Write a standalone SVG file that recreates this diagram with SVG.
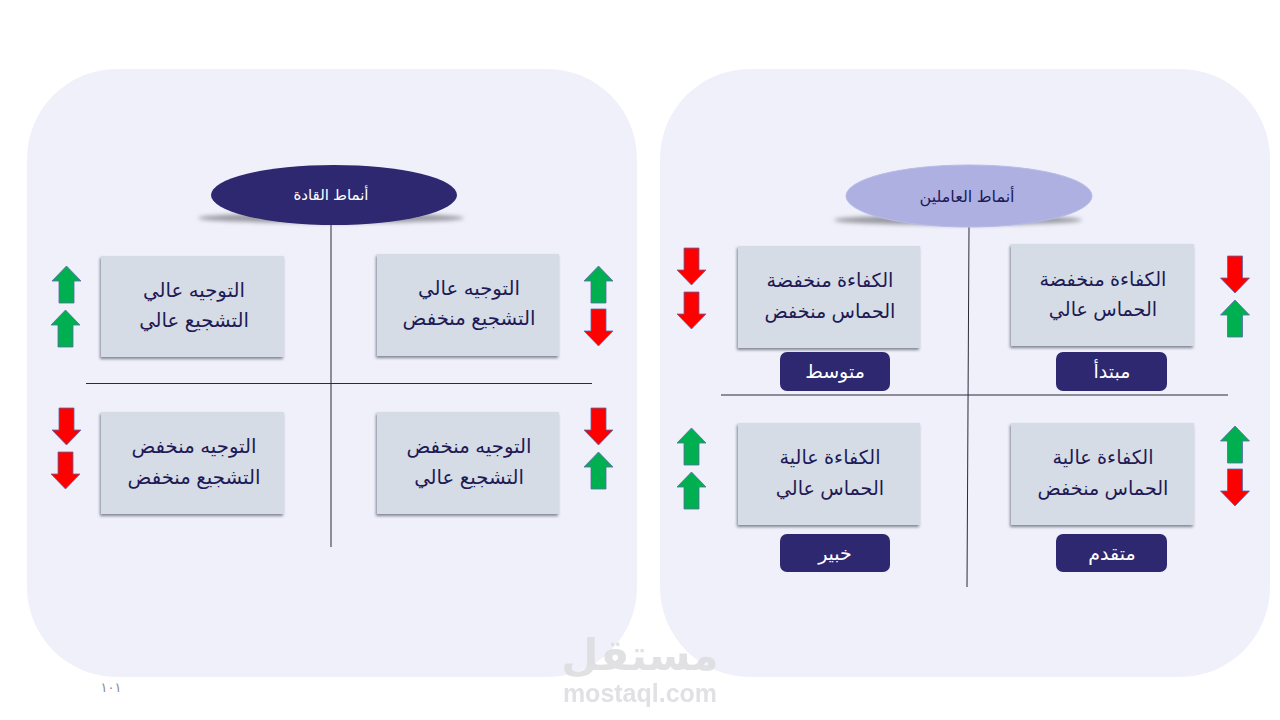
<svg xmlns="http://www.w3.org/2000/svg" width="1280" height="720" viewBox="0 0 1280 720">
<style>
text{font-family:"Liberation Sans","DejaVu Sans",sans-serif;text-anchor:middle;direction:rtl}
.panel{fill:#eff0fa}
.box{fill:#d6dce5;filter:url(#bs)}
.t{font-size:19.700px;fill:#1e1a55}
.r{font-size:19.200px}
.lbl{fill:#2e2870}
.lt{font-size:19px;fill:#fff}
.ln{stroke:#2b2b3a;stroke-width:1;fill:none}
.up{fill:#00b050;stroke:#5b6aa8;stroke-width:.8}
.dn{fill:#ff0000;stroke:#5b6aa8;stroke-width:.8}
.sh{fill:#9a9aa2;filter:url(#b2)}
</style>
<defs>
<filter id="bs" x="-10%" y="-10%" width="120%" height="120%"><feGaussianBlur in="SourceGraphic" stdDeviation=".6" result="e"/><feOffset in="SourceAlpha" dx="-1" dy="2"/><feGaussianBlur stdDeviation="1.800" result="a"/><feFlood flood-color="#6b7080" flood-opacity=".85"/><feComposite in2="a" operator="in" result="s"/><feMerge><feMergeNode in="s"/><feMergeNode in="e"/></feMerge></filter>
<filter id="b2" x="-10%" y="-100%" width="120%" height="300%"><feGaussianBlur stdDeviation="2"/></filter>
<path id="u" d="M0 0L14.500 15H7.500V37H-7.500V15H-14.500Z"/>
<path id="d" d="M0 37L14.500 22H7.500V0H-7.500V22H-14.500Z"/>
</defs>
<rect width="1280" height="720" fill="#fff"/>
<rect class="panel" x="27" y="69" width="610" height="608" rx="90"/>
<rect class="panel" x="660" y="69" width="610" height="608" rx="90"/>
<g id="connectors">
<path class="ln" d="M331 225V547M86 383.500H592"/>
<path class="ln" d="M969 227L967 587M721 395H1228"/>
</g>
<g id="leaders">
<ellipse class="sh" cx="331" cy="218" rx="133" ry="5"/>
<ellipse cx="334" cy="195" rx="123" ry="30" fill="#2e2870"/>
<text x="331" y="200" font-size="15" fill="#fff">أنماط القادة</text>
</g>
<g id="workers">
<ellipse class="sh" cx="958" cy="220" rx="124" ry="5"/>
<ellipse cx="969" cy="196" rx="123" ry="31" fill="#aeb0e2" stroke="#b9bbe8"/>
<text x="967" y="202" font-size="16" fill="#1e1a55">أنماط العاملين</text>
</g>
<g id="l1"><rect class="box" x="101" y="256" width="183" height="101"/><text class="t" x="194" y="297">التوجيه عالي</text><text class="t" x="194" y="327">التشجيع عالي</text><use href="#u" class="up" x="66.500" y="266"/><use href="#u" class="up" x="65.500" y="310"/></g>
<g id="l2"><rect class="box" x="377" y="254" width="182" height="102"/><text class="t" x="469" y="295">التوجيه عالي</text><text class="t" x="469" y="325">التشجيع منخفض</text><use href="#u" class="up" x="598.500" y="266"/><use href="#d" class="dn" x="598.500" y="309"/></g>
<g id="l3"><rect class="box" x="101" y="412" width="183" height="102"/><text class="t" x="194" y="453">التوجيه منخفض</text><text class="t" x="194" y="484">التشجيع منخفض</text><use href="#d" class="dn" x="66.500" y="408"/><use href="#d" class="dn" x="65.500" y="452"/></g>
<g id="l4"><rect class="box" x="377" y="412" width="182" height="102"/><text class="t" x="469" y="453">التوجيه منخفض</text><text class="t" x="469" y="484">التشجيع عالي</text><use href="#d" class="dn" x="598.500" y="408"/><use href="#u" class="up" x="598.500" y="452"/></g>
<g id="r1"><rect class="box" x="738" y="246" width="182" height="102"/><text class="t r" x="830" y="287">الكفاءة منخفضة</text><text class="t r" x="830" y="318">الحماس منخفض</text><use href="#d" class="dn" x="691.500" y="248"/><use href="#d" class="dn" x="691.500" y="292"/></g>
<g id="r2"><rect class="box" x="1011" y="244" width="183" height="102"/><text class="t r" x="1103" y="286">الكفاءة منخفضة</text><text class="t r" x="1103" y="316">الحماس عالي</text><use href="#d" class="dn" x="1235" y="256"/><use href="#u" class="up" x="1235" y="300"/></g>
<g id="r3"><rect class="box" x="738" y="423" width="182" height="102"/><text class="t r" x="830" y="464">الكفاءة عالية</text><text class="t r" x="830" y="495">الحماس عالي</text><use href="#u" class="up" x="691.500" y="428"/><use href="#u" class="up" x="691.500" y="472"/></g>
<g id="r4"><rect class="box" x="1011" y="423" width="183" height="102"/><text class="t r" x="1103" y="464">الكفاءة عالية</text><text class="t r" x="1103" y="495">الحماس منخفض</text><use href="#u" class="up" x="1235" y="426"/><use href="#d" class="dn" x="1235" y="469"/></g>
<g id="s1"><rect class="lbl" x="780" y="352" width="110" height="39" rx="7"/><text class="lt" x="835" y="378">متوسط</text></g>
<g id="s2"><rect class="lbl" x="1056" y="352" width="111" height="39" rx="7"/><text class="lt" x="1112" y="378">مبتدأ</text></g>
<g id="s3"><rect class="lbl" x="780" y="534" width="110" height="38" rx="7"/><text class="lt" x="835" y="560">خبير</text></g>
<g id="s4"><rect class="lbl" x="1056" y="534" width="111" height="38" rx="7"/><text class="lt" x="1112" y="560">متقدم</text></g>
<text x="111" y="692" font-size="13" fill="#8a8a9a">١٠١</text>
<g id="watermark" fill="#dcdce0" opacity=".85">
<text x="640" y="670" font-size="43" font-weight="700">مستقل</text>
<text x="640" y="702" font-size="25" font-weight="700">mostaql.com</text>
</g>
</svg>
